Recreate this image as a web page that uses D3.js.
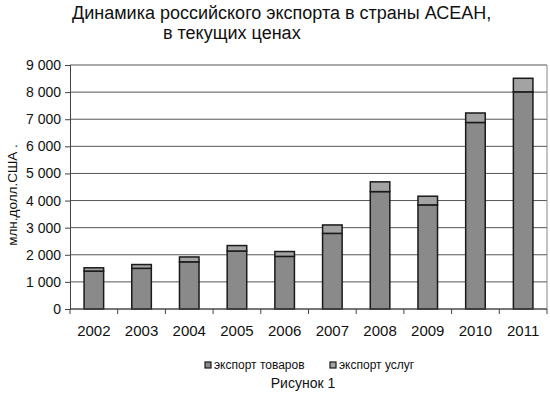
<!DOCTYPE html>
<html>
<head>
<meta charset="utf-8">
<script src="https://cdn.jsdelivr.net/npm/d3@7"></script>
<style>
  body { margin: 0; background: #fff; }
  text { font-family: "Liberation Sans", Arial, sans-serif; fill: #111; }
</style>
</head>
<body>
<div id="chart"></div>
<script>
// data, млн. долл. США
var years = ["2002", "2003", "2004", "2005", "2006", "2007", "2008", "2009", "2010", "2011"];
var goods = [1400, 1500, 1740, 2140, 1940, 2790, 4330, 3840, 6880, 8010];
var services = [120, 140, 180, 200, 180, 310, 360, 320, 350, 500];
var yTicks = [0, 1000, 2000, 3000, 4000, 5000, 6000, 7000, 8000, 9000];
var seriesNames = ["экспорт товаров", "экспорт услуг"];
var seriesColors = ["#8a8a8a", "#a3a3a3"];

var width = 550, height = 397;
var margin = { top: 65, right: 3, bottom: 88, left: 70 };

var svg = d3.select("#chart").append("svg")
    .attr("width", width)
    .attr("height", height);

var x = d3.scaleBand()
    .domain(years)
    .range([margin.left, width - margin.right])
    .paddingInner(0.59)
    .paddingOuter(0.295);

var xEdges = d3.scaleLinear()
    .domain([0, years.length])
    .range([margin.left, width - margin.right]);

var y = d3.scaleLinear()
    .domain([0, 9000])
    .range([height - margin.bottom, margin.top]);

// gridlines
svg.append("g")
  .selectAll("line")
  .data(yTicks)
  .enter().append("line")
    .attr("x1", margin.left)
    .attr("x2", width - margin.right)
    .attr("y1", function(d) { return y(d); })
    .attr("y2", function(d) { return y(d); })
    .attr("stroke", "#555")
    .attr("stroke-width", 1);

// plot frame right side
svg.append("line")
    .attr("x1", width - margin.right).attr("x2", width - margin.right)
    .attr("y1", y(9000)).attr("y2", y(0))
    .attr("stroke", "#888");

// stacked bars
var rows = years.map(function(yr, i) { return { year: yr, goods: goods[i], services: services[i] }; });
var stack = d3.stack().keys(["goods", "services"])(rows);

svg.append("g")
  .selectAll("g")
  .data(stack)
  .enter().append("g")
    .attr("fill", function(d, i) { return seriesColors[i]; })
  .selectAll("rect")
  .data(function(d) { return d; })
  .enter().append("rect")
    .attr("x", function(d) { return x(d.data.year); })
    .attr("width", x.bandwidth())
    .attr("y", function(d) { return y(d[1]); })
    .attr("height", function(d) { return y(d[0]) - y(d[1]); })
    .attr("stroke", "#1a1a1a")
    .attr("stroke-width", 1.5);

// y axis
var yAxis = svg.append("g")
    .attr("transform", "translate(" + margin.left + ",0)")
    .call(d3.axisLeft(y).tickValues(yTicks).tickSize(5).tickPadding(4)
      .tickFormat(function(d) { return d3.format(",")(d).replace(",", " "); }));
yAxis.select(".domain").attr("stroke", "#444");
yAxis.selectAll(".tick line").attr("stroke", "#444");
yAxis.selectAll("text").attr("font-size", 14).attr("fill", "#111");

// x axis
var xAxis = svg.append("g")
    .attr("transform", "translate(0," + y(0) + ")");
xAxis.append("line")
    .attr("x1", margin.left).attr("x2", width - margin.right)
    .attr("stroke", "#444");
xAxis.selectAll(".edge")
  .data(d3.range(years.length + 1))
  .enter().append("line")
    .attr("class", "edge")
    .attr("x1", function(d) { return xEdges(d); })
    .attr("x2", function(d) { return xEdges(d); })
    .attr("y1", 0).attr("y2", 5)
    .attr("stroke", "#444");
xAxis.selectAll("text")
  .data(years)
  .enter().append("text")
    .attr("x", function(d) { return x(d) + x.bandwidth() / 2; })
    .attr("y", 27)
    .attr("text-anchor", "middle")
    .attr("font-size", 15)
    .text(function(d) { return d; });

// axis title
svg.append("text")
    .attr("transform", "translate(17,195) rotate(-90)")
    .attr("text-anchor", "middle")
    .attr("font-size", 13.5)
    .text("млн.долл.США .");

// title
svg.append("text")
    .attr("x", 72).attr("y", 19)
    .attr("font-size", 18)
    .text("Динамика российского экспорта в страны АСЕАН,");
svg.append("text")
    .attr("x", 163).attr("y", 39)
    .attr("font-size", 18)
    .text("в текущих ценах");

// legend
var legendX = [205, 330];
var legend = svg.append("g")
  .selectAll("g")
  .data(seriesNames)
  .enter().append("g")
    .attr("transform", function(d, i) { return "translate(" + legendX[i] + ",362)"; });
legend.append("rect")
    .attr("width", 6).attr("height", 6)
    .attr("fill", function(d, i) { return seriesColors[i]; })
    .attr("stroke", "#1a1a1a")
    .attr("stroke-width", 1.2);
legend.append("text")
    .attr("x", 9).attr("y", 7)
    .attr("font-size", 12)
    .text(function(d) { return d; });

svg.append("text")
    .attr("x", 303).attr("y", 388)
    .attr("text-anchor", "middle")
    .attr("font-size", 14)
    .text("Рисунок 1");
</script>
</body>
</html>
